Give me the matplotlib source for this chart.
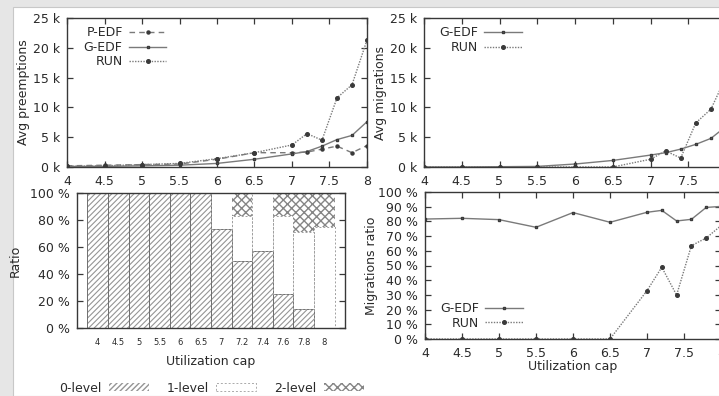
import matplotlib
matplotlib.use("Agg")
import matplotlib.pyplot as plt
from matplotlib.patches import Patch, Rectangle
import numpy as np

# ---------------- data ----------------
util_caps = [4, 4.5, 5, 5.5, 6, 6.5, 7, 7.2, 7.4, 7.6, 7.8, 8]
cap_labels = ["4", "4.5", "5", "5.5", "6", "6.5", "7", "7.2", "7.4", "7.6", "7.8", "8"]

# Avg preemptions (thousands)
pedf_preempt = [0.2, 0.3, 0.4, 0.5, 1.3, 2.4, 2.4, 2.5, 3.0, 3.5, 2.4, 3.6]
gedf_preempt = [0.1, 0.1, 0.2, 0.3, 0.6, 1.3, 2.2, 2.6, 3.5, 4.6, 5.3, 7.6]
run_preempt = [0.1, 0.2, 0.4, 0.6, 1.4, 2.4, 3.7, 5.6, 4.5, 11.6, 13.8, 21.3]

# Avg migrations (thousands)
gedf_migr = [0.0, 0.0, 0.05, 0.1, 0.5, 1.1, 2.0, 2.4, 3.0, 3.8, 4.8, 6.8]
run_migr = [0.0, 0.0, 0.0, 0.0, 0.0, 0.0, 1.3, 2.7, 1.5, 7.4, 9.7, 15.1]

# Migrations ratio (%)
gedf_ratio = [81.6, 82.1, 81.2, 76.0, 86.0, 79.4, 86.2, 87.5, 80.3, 81.4, 89.5, 90.2]
run_ratio = [0, 0, 0, 0, 0, 0, 32.9, 48.8, 29.9, 63.5, 68.7, 77.1]

# Level ratio (%)
level0 = [100, 100, 100, 100, 100, 100, 73, 50, 57, 25, 14, 0]
level1 = [0, 0, 0, 0, 0, 0, 27, 33, 43, 58, 57, 75]
level2 = [0, 0, 0, 0, 0, 0, 0, 17, 0, 17, 29, 25]

# ---------------- style ----------------
W, H = 719, 396
plt.rcParams["font.family"] = ["DejaVu Sans"]
plt.rcParams["font.size"] = 9
TXT = "#2a2a2a"
LINE = "#7a7a7a"
MARK = "#3a3a3a"
FRAME = "#383838"

fig = plt.figure(figsize=(W / 100, H / 100), dpi=100, facecolor="#e6e6e6")
# white content area of the screenshot
bg = Rectangle((13 / W, 0), 1, (H - 7) / H, transform=fig.transFigure,
               facecolor="white", edgecolor="#c8c8c8", linewidth=0.8, zorder=-10)
fig.patches.append(bg)


def ax_at(l, r, t, b):
    return fig.add_axes([l / W, (H - b) / H, (r - l) / W, (b - t) / H])


def style_axes(ax, xticks=True):
    for s in ax.spines.values():
        s.set_color(FRAME)
        s.set_linewidth(1.0)
    ax.tick_params(direction="in", length=4, width=0.9, color=FRAME, labelcolor=TXT,
                   top=xticks, right=True, bottom=xticks)
    ax.tick_params(axis="x", pad=6)
    ax.tick_params(axis="y", pad=5)
    ax.set_facecolor("white")


def kfmt(v, p):
    return f"{int(round(v))} k"


def pfmt(v, p):
    return f"{int(round(v))} %"


xticks = [4, 4.5, 5, 5.5, 6, 6.5, 7, 7.5, 8]
xtlabels = ["4", "4.5", "5", "5.5", "6", "6.5", "7", "7.5", "8"]
leg_kw = dict(markerfirst=False, frameon=False, handlelength=3.0, labelspacing=0.12,
              borderpad=0, handletextpad=0.5, labelcolor=TXT)
MS_RUN = 2.6
MS_G = 2.0

# ---- top-left: preemptions
ax1 = ax_at(67, 367, 18, 167)
ax1.plot(util_caps, pedf_preempt, color=LINE, lw=1.0, ls=(0, (4, 3)), marker="o", ms=2.2,
         mfc=MARK, mec=MARK, label="P-EDF")
ax1.plot(util_caps, gedf_preempt, color=LINE, lw=1.0, ls="-", marker="s", ms=MS_G,
         mfc=LINE, mec=MARK, label="G-EDF")
ax1.plot(util_caps, run_preempt, color=LINE, lw=1.0, ls=(0, (1, 1)), marker="o", ms=MS_RUN,
         mfc=MARK, mec=MARK, label="RUN")
ax1.set_xlim(4, 8)
ax1.set_ylim(0, 25)
ax1.set_xticks(xticks, xtlabels)
ax1.set_yticks([0, 5, 10, 15, 20, 25])
ax1.yaxis.set_major_formatter(plt.FuncFormatter(kfmt))
ax1.set_ylabel("Avg preemptions", color=TXT, labelpad=2)
style_axes(ax1)
ax1.legend(loc="upper left", bbox_to_anchor=(0.035, 0.985), **leg_kw)

# ---- top-right: migrations
ax2 = ax_at(424, 726, 18, 167)
ax2.plot(util_caps, gedf_migr, color=LINE, lw=1.0, ls="-", marker="s", ms=MS_G,
         mfc=LINE, mec=MARK, label="G-EDF")
ax2.plot(util_caps, run_migr, color=LINE, lw=1.0, ls=(0, (1, 1)), marker="o", ms=MS_RUN,
         mfc=MARK, mec=MARK, label="RUN")
ax2.set_xlim(4, 8)
ax2.set_ylim(0, 25)
ax2.set_xticks(xticks, xtlabels)
ax2.set_yticks([0, 5, 10, 15, 20, 25])
ax2.yaxis.set_major_formatter(plt.FuncFormatter(kfmt))
ax2.set_ylabel("Avg migrations", color=TXT, labelpad=2)
style_axes(ax2)
ax2.legend(loc="upper left", bbox_to_anchor=(0.03, 0.985), **leg_kw)

# ---- bottom-left: level ratio bars
ax3 = ax_at(77, 345, 193, 328)
pos = np.arange(len(util_caps))
bottom1 = np.array(level0)
bottom2 = bottom1 + np.array(level1)
HATCH0 = "//////"
HATCH2 = "xxxx"
# level 0: hatched
plt.rcParams["hatch.linewidth"] = 0.8
ax3.bar(pos, level0, width=1.0, color="white", edgecolor="#959595", hatch=HATCH0, lw=0)
ax3.bar(pos, level0, width=1.0, fill=False, edgecolor="#707070", lw=0.7)
# level 1: empty with dotted border
ax3.bar(pos, level1, bottom=bottom1, width=1.0, fill=False, edgecolor="#a0a0a0", lw=0.7,
        ls=(0, (2, 2)))
# level 2: cross hatched
plt.rcParams["hatch.linewidth"] = 1.0
ax3.bar(pos, level2, bottom=bottom2, width=1.0, color="white", edgecolor="#858585",
        hatch=HATCH2, lw=0)
ax3.set_xlim(-1, 12)
ax3.set_ylim(0, 100)
ax3.set_xticks(pos, cap_labels)
ax3.set_yticks([0, 20, 40, 60, 80, 100])
ax3.yaxis.set_major_formatter(plt.FuncFormatter(pfmt))
style_axes(ax3, xticks=False)
ax3.tick_params(axis="x", labelsize=6, pad=7, length=0)
ax3.set_ylabel("Ratio", color=TXT, labelpad=6)
ax3.set_xlabel("Utilization cap", color=TXT, labelpad=6)

plt.rcParams["hatch.linewidth"] = 0.8
lh0 = Patch(facecolor="white", edgecolor="#959595", hatch=HATCH0, lw=0, label="0-level")
lh1 = Patch(facecolor="white", edgecolor="#aaaaaa", lw=0.7, ls=(0, (2, 2)), label="1-level")
plt.rcParams["hatch.linewidth"] = 1.0
lh2 = Patch(facecolor="white", edgecolor="#858585", hatch=HATCH2, lw=0, label="2-level")
fig.legend(handles=[lh0, lh1, lh2], loc="center left", bbox_to_anchor=(53 / W, 1 - 388 / H),
           ncol=3, markerfirst=False, frameon=False, handlelength=3.2, handleheight=0.6,
           handletextpad=0.6, columnspacing=1.4, borderpad=0, labelcolor=TXT)

# ---- bottom-right: migrations ratio
ax4 = ax_at(425, 721, 192, 339)
ax4.plot(util_caps, gedf_ratio, color=LINE, lw=1.0, ls="-", marker="s", ms=MS_G,
         mfc=LINE, mec=MARK, label="G-EDF")
ax4.plot(util_caps, run_ratio, color=LINE, lw=1.0, ls=(0, (1, 1)), marker="o", ms=MS_RUN,
         mfc=MARK, mec=MARK, label="RUN")
ax4.set_xlim(4, 8)
ax4.set_ylim(0, 100)
ax4.set_xticks(xticks, xtlabels)
ax4.set_yticks(np.arange(0, 101, 10))
ax4.yaxis.set_major_formatter(plt.FuncFormatter(pfmt))
ax4.set_ylabel("Migrations ratio", color=TXT, labelpad=0)
ax4.set_xlabel("Utilization cap", color=TXT, labelpad=0)
style_axes(ax4)
ax4.legend(loc="lower left", bbox_to_anchor=(0.03, 0.02), **leg_kw)

fig.savefig("out.png", dpi=100, facecolor=fig.get_facecolor())
